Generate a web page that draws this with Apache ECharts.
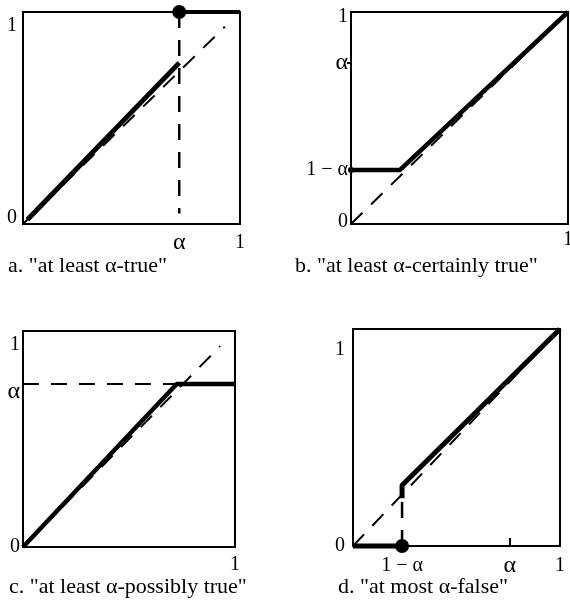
<!DOCTYPE html>
<html>
<head>
<meta charset="utf-8">
<script src="https://cdn.jsdelivr.net/npm/echarts@6/dist/echarts.min.js"></script>
<style>
  html, body { margin: 0; padding: 0; background: #fff; }
  #chart { width: 570px; height: 605px; }
</style>
</head>
<body>
<div id="chart"></div>
<script>
// panel a: "at least alpha-true"
const diagA = [[0, 0], [0.93, 0.93]];
const thickA = [[0.02, 0.02], [0.72, 0.76]];
const topA = [[0.72, 1], [1, 1]];
const dropA = [[0.72, 1], [0.72, 0.05]];
const dotA = [[0.72, 1]];
const xTicksA = [0.72, 1];
const xLabelsA = ['α', '1'];
const yTicksA = [0, 1];
const yLabelsA = ['0', '1'];

// panel b: "at least alpha-certainly true"
const diagB = [[0, 0], [1, 1]];
const thickB = [[0, 0.255], [0.226, 0.255], [1, 1]];
const dotB = [[0, 0.255]];
const xTicksB = [1];
const xLabelsB = ['1'];
const yTicksB = [0, 0.255, 0.76, 1];
const yLabelsB = ['0', '1 − α', 'α', '1'];

// panel c: "at least alpha-possibly true"
const diagC = [[0, 0], [0.93, 0.93]];
const thickC = [[0, 0], [0.725, 0.755], [1, 0.755]];
const levelC = [[0, 0.755], [0.725, 0.755]];
const xTicksC = [1];
const xLabelsC = ['1'];
const yTicksC = [0, 0.755, 1];
const yLabelsC = ['0', 'α', '1'];

// panel d: "at most alpha-false"
const diagD = [[0, 0], [1, 1]];
const floorD = [[0, 0], [0.237, 0]];
const jumpD = [[0.237, 0], [0.237, 0.22]];
const thickD = [[0.237, 0.22], [0.237, 0.28], [1, 1]];
const dotD = [[0.237, 0]];
const xTicksD = [0.237, 0.758, 1];
const xLabelsD = ['1 − α', 'α', '1'];
const yTicksD = [0, 1];
const yLabelsD = ['0', '1'];

const captions = [
  'a. "at least α-true"',
  'b. "at least α-certainly true"',
  'c. "at least α-possibly true"',
  'd. "at most α-false"'
];

const FONT = 'Liberation Serif';
const FS = 20;

function nearest(ticks, v) {
  let best = 0;
  ticks.forEach((t, i) => { if (Math.abs(t - v) < Math.abs(ticks[best] - v)) best = i; });
  return best;
}

// shifts move a label down (+) or up (-) in pixels, like the printed figure
function axisFor(grid, ticks, labels, opts) {
  opts = opts || {};
  const shifts = opts.shifts || [];
  const rich = {};
  labels.forEach((l, i) => {
    const d = shifts[i] || 0;
    rich['s' + i] = {
      fontFamily: FONT, fontSize: l === 'α' ? 24 : FS, lineHeight: FS, color: '#000',
      padding: d >= 0 ? [2 * d, 0, 0, 0] : [0, 0, -2 * d, 0]
    };
  });
  return {
    type: 'value', gridIndex: grid, min: 0, max: 1,
    splitLine: { show: false },
    axisLine: { show: false },
    axisTick: opts.tick ? Object.assign({ show: true, customValues: opts.tickValues,
      lineStyle: { color: '#000', width: 2 } }, opts.tick) : { show: false },
    axisLabel: {
      customValues: ticks,
      margin: opts.margin == null ? 6 : opts.margin,
      alignMaxLabel: opts.alignMax,
      fontFamily: FONT, fontSize: FS, color: '#000',
      formatter: v => { const i = nearest(ticks, v); return '{s' + i + '|' + labels[i] + '}'; },
      rich
    }
  };
}

function line(grid, data, width, dashed, z) {
  return {
    type: 'line', xAxisIndex: grid, yAxisIndex: grid, data,
    showSymbol: false, clip: false, silent: true, z: z || 2,
    lineStyle: { color: '#000', width, type: dashed ? [16, 12] : 'solid', cap: 'butt' }
  };
}

function dot(grid, data, size) {
  return {
    type: 'scatter', xAxisIndex: grid, yAxisIndex: grid, data,
    symbolSize: size, clip: false, silent: true, z: 5,
    itemStyle: { color: '#000', opacity: 1 }
  };
}

const chart = echarts.init(document.getElementById('chart'), null, { renderer: 'canvas' });

const gridStyle = {
  show: true, borderColor: '#000', borderWidth: 2, backgroundColor: 'transparent',
  containLabel: false, outerBoundsMode: 'none'
};

chart.setOption({
  animation: false,
  backgroundColor: '#fff',
  title: [
    { text: captions[0], left: 8, top: 255 },
    { text: captions[1], left: 295, top: 255 },
    { text: captions[2], left: 9, top: 576 },
    { text: captions[3], left: 338, top: 576 }
  ].map(t => Object.assign(t, { padding: 0,
    textStyle: { fontFamily: FONT, fontSize: 22, fontWeight: 'normal', color: '#000' } })),
  grid: [
    Object.assign({ left: 23, top: 12, width: 217, height: 212 }, gridStyle),
    Object.assign({ left: 351, top: 12, width: 217, height: 212 }, gridStyle),
    Object.assign({ left: 23, top: 331, width: 212, height: 216 }, gridStyle),
    Object.assign({ left: 353, top: 329, width: 207, height: 217 }, gridStyle)
  ],
  xAxis: [
    axisFor(0, xTicksA, xLabelsA, { margin: 9 }),
    axisFor(1, xTicksB, xLabelsB, { margin: 6 }),
    axisFor(2, xTicksC, xLabelsC, { margin: 8, alignMax: 'right' }),
    axisFor(3, xTicksD, xLabelsD, { margin: 10,
      tick: { inside: true, length: 8 }, tickValues: [xTicksD[1]] })
  ],
  yAxis: [
    axisFor(0, yTicksA, yLabelsA, { shifts: [-6, 14] }),
    axisFor(1, yTicksB, yLabelsB, { shifts: [-2, 0, 0, 5],
      tick: { inside: false, length: 4 }, tickValues: [yTicksB[2]], margin: 3 }),
    axisFor(2, yTicksC, yLabelsC, { shifts: [0, 8, 14], margin: 3 }),
    axisFor(3, yTicksD, yLabelsD, { shifts: [0, 21], margin: 8 })
  ],
  series: [
    line(0, diagA, 2, true),
    line(0, dropA, 2.5, true),
    line(0, thickA, 5, false, 3),
    line(0, topA, 4, false, 3),
    dot(0, dotA, 14),

    line(1, diagB, 2, true),
    line(1, thickB, 4.5, false, 3),
    dot(1, dotB, 6),

    line(2, diagC, 2, true),
    line(2, levelC, 2, true),
    line(2, thickC, 4.5, false, 3),

    line(3, diagD, 2, true),
    line(3, jumpD, 2.5, true),
    line(3, floorD, 5, false, 3),
    line(3, thickD, 5, false, 3),
    dot(3, dotD, 14)
  ]
});
</script>
</body>
</html>
